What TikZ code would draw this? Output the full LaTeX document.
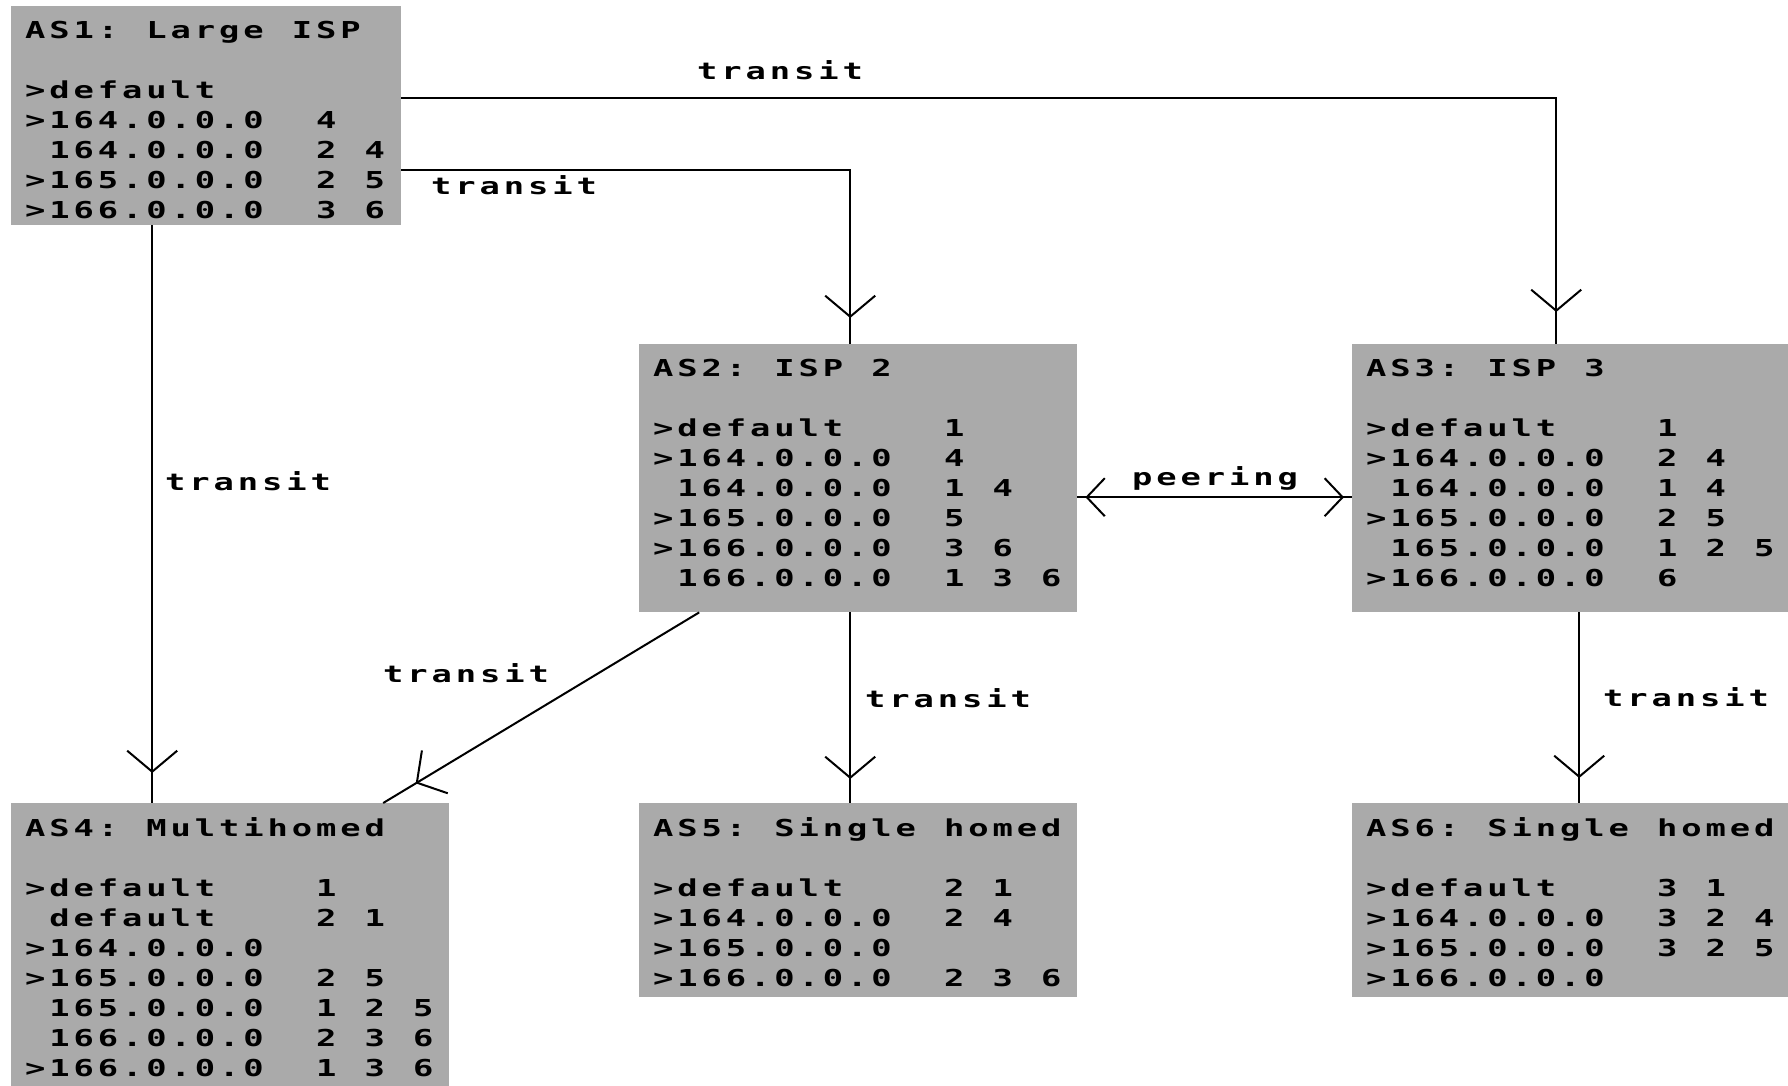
\documentclass[tikz,border=0pt]{standalone}
\usepackage{fontspec}
\usetikzlibrary{arrows.meta, calc, positioning, decorations.markings}
\newfontfamily\tablefont[FakeStretch=1.45]{DejaVu Sans Mono Bold}
\definecolor{boxgray}{RGB}{170,170,170}
\newlength{\cellw}
\setlength{\cellw}{24.25pt}
\newcommand{\asfont}{\tablefont\fontsize{23.3pt}{30pt}\selectfont}
% every character sits in a cell of fixed width, ~ is an empty cell
\makeatletter
\newcommand{\cellrow}[1]{\@tfor\cellch:=#1\do{\makebox[\cellw][l]{\cellch}}}
\makeatother
\tikzset{
  asbox/.style={fill=boxgray, inner sep=0pt, anchor=north west},
  rows/.style={inner sep=0pt, align=left, font=\asfont},
  lbl/.style={inner sep=0pt, anchor=base west, font=\asfont},
  transit/.style={line width=2.5pt, postaction=decorate,
    decoration={markings, mark=at position -#1 with
      {\arrow[line width=2pt]{Straight Barb[length=21pt,width=50pt]}}}},
  transit/.default=28pt,
  peering/.style={line width=2.5pt, postaction=decorate,
    decoration={markings,
      mark=at position 8pt with
        {\arrowreversed[line width=2pt]{Straight Barb[length=18pt,width=38pt]}},
      mark=at position -8pt with
        {\arrow[line width=2pt]{Straight Barb[length=18pt,width=38pt]}}}}
}

\begin{document}
\begin{tikzpicture}[x=1pt, y=-1pt]
  \useasboundingbox (0,0) rectangle (1788,1086);
  %--- the six ASes ----------------------------------------------------------
  \node[asbox, minimum width=390pt, minimum height=219pt] (as1) at (11,6) {};
  \node[asbox, minimum width=438pt, minimum height=268pt] (as2) at (639,344) {};
  \node[asbox, minimum width=436pt, minimum height=268pt] (as3) at (1352,344) {};
  \node[asbox, minimum width=438pt, minimum height=283pt] (as4) at (11,803) {};
  \node[asbox, minimum width=438pt, minimum height=194pt] (as5) at (639,803) {};
  \node[asbox, minimum width=436pt, minimum height=194pt] (as6) at (1352,803) {};
  % routing tables
  \node[rows, below right=14pt and 14pt of as1.north west] (as1t) {%
    \rule{0pt}{18pt}\cellrow{AS1:~Large~ISP}\\[30pt]
    \cellrow{>default}\\
    \cellrow{>164.0.0.0~~4}\\
    \cellrow{~164.0.0.0~~2~4}\\
    \cellrow{>165.0.0.0~~2~5}\\
    \cellrow{>166.0.0.0~~3~6}};
  \node[rows, below right=14pt and 14pt of as2.north west] (as2t) {%
    \rule{0pt}{18pt}\cellrow{AS2:~ISP~2}\\[30pt]
    \cellrow{>default~~~~1}\\
    \cellrow{>164.0.0.0~~4}\\
    \cellrow{~164.0.0.0~~1~4}\\
    \cellrow{>165.0.0.0~~5}\\
    \cellrow{>166.0.0.0~~3~6}\\
    \cellrow{~166.0.0.0~~1~3~6}};
  \node[rows, below right=14pt and 14pt of as3.north west] (as3t) {%
    \rule{0pt}{18pt}\cellrow{AS3:~ISP~3}\\[30pt]
    \cellrow{>default~~~~1}\\
    \cellrow{>164.0.0.0~~2~4}\\
    \cellrow{~164.0.0.0~~1~4}\\
    \cellrow{>165.0.0.0~~2~5}\\
    \cellrow{~165.0.0.0~~1~2~5}\\
    \cellrow{>166.0.0.0~~6}};
  \node[rows, below right=14pt and 14pt of as4.north west] (as4t) {%
    \rule{0pt}{18pt}\cellrow{AS4:~Multihomed}\\[30pt]
    \cellrow{>default~~~~1}\\
    \cellrow{~default~~~~2~1}\\
    \cellrow{>164.0.0.0}\\
    \cellrow{>165.0.0.0~~2~5}\\
    \cellrow{~165.0.0.0~~1~2~5}\\
    \cellrow{~166.0.0.0~~2~3~6}\\
    \cellrow{>166.0.0.0~~1~3~6}};
  \node[rows, below right=14pt and 14pt of as5.north west] (as5t) {%
    \rule{0pt}{18pt}\cellrow{AS5:~Single~homed}\\[30pt]
    \cellrow{>default~~~~2~1}\\
    \cellrow{>164.0.0.0~~2~4}\\
    \cellrow{>165.0.0.0}\\
    \cellrow{>166.0.0.0~~2~3~6}};
  \node[rows, below right=14pt and 14pt of as6.north west] (as6t) {%
    \rule{0pt}{18pt}\cellrow{AS6:~Single~homed}\\[30pt]
    \cellrow{>default~~~~3~1}\\
    \cellrow{>164.0.0.0~~3~2~4}\\
    \cellrow{>165.0.0.0~~3~2~5}\\
    \cellrow{>166.0.0.0}};
  %--- links -----------------------------------------------------------------
  \draw[transit=32pt] ([yshift=17.5pt]as1.east) -| ([xshift=-14pt]as3.north);
  \draw[transit=26pt] ([yshift=-54.5pt]as1.east) -| ([xshift=-8pt]as2.north);
  \draw[transit=30pt] ([xshift=-54pt]as1.south) -- ([xshift=-78pt]as4.north);
  \draw[transit=38pt, line width=2pt]
    ([xshift=-159pt]as2.south) -- ([xshift=153pt]as4.north);
  \draw[transit=24pt] ([xshift=-8pt]as2.south) -- ([xshift=-8pt]as5.north);
  \draw[transit=25pt] ([xshift=9pt]as3.south) -- ([xshift=9pt]as6.north);
  \draw[peering] ([yshift=-19pt]as2.east) -- ([yshift=-19pt]as3.west);
  % link labels
  \node[lbl] (lbl13) at (697,80) {\cellrow{transit}};
  \node[lbl] (lbl12) at (431,195) {\cellrow{transit}};
  \node[lbl] (lbl14) at (165,490) {\cellrow{transit}};
  \node[lbl] (lbl24) at (383,682) {\cellrow{transit}};
  \node[lbl] (lbl25) at (865,707) {\cellrow{transit}};
  \node[lbl] (lbl36) at (1603,706) {\cellrow{transit}};
  \node[lbl] (lbl23) at (1132,485) {\cellrow{peering}};
\end{tikzpicture}
\end{document}
